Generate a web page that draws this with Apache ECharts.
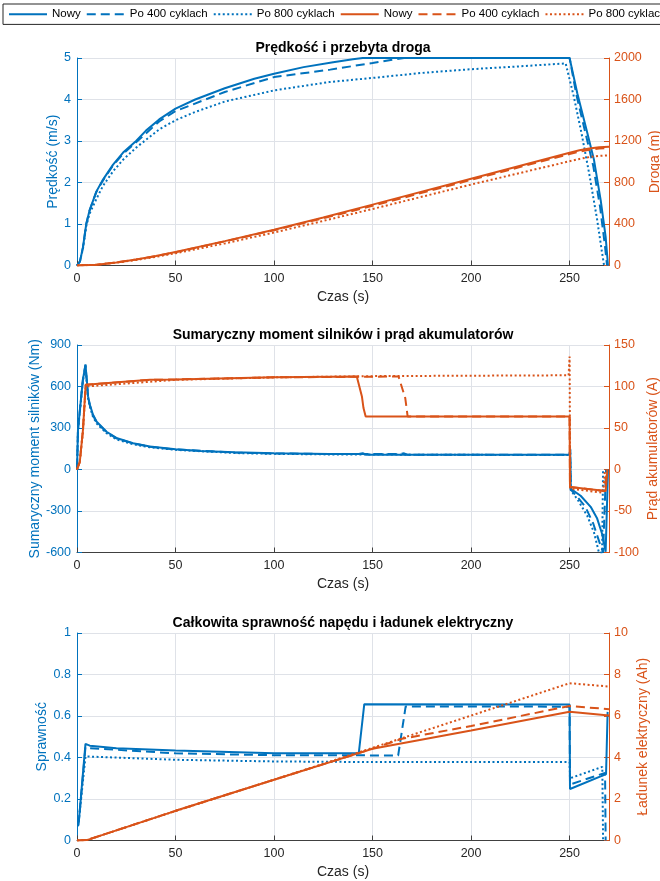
<!DOCTYPE html>
<html>
<head>
<meta charset="utf-8">
<script src="https://cdn.jsdelivr.net/npm/echarts@6/dist/echarts.min.js"></script>
<style>
  html, body { margin: 0; padding: 0; background: #fff; }
  #main { width: 660px; height: 881px; }
</style>
</head>
<body>
<div id="main"></div>
<script>
// --- dane: [czas (s), wartość] ---
// prędkość (m/s)
var speedNew = [[0,0],[1.5,0.1],[3,0.43],[4.7,1.0],[6.4,1.33],[9.8,1.78],[13.2,2.07],[18.3,2.43],[23.4,2.72],[30,3.0],[35,3.25],[41.7,3.52],[50,3.78],[60,4.0],[75,4.27],[90,4.5],[100,4.62],[115,4.78],[130,4.9],[140,4.97],[145,5.0],[250,5.0],[253.9,4.15],[259,3.19],[262.4,2.54],[265.8,1.57],[268.3,0.69],[269.5,0]];
var speed400 = [[0,0],[1.5,0.1],[3,0.43],[4.7,1.0],[6.4,1.33],[9.8,1.77],[13.2,2.05],[18.3,2.41],[23.4,2.69],[30,2.97],[41.7,3.47],[50,3.72],[75,4.18],[100,4.54],[128.5,4.72],[150,4.88],[160,4.96],[166,5.0],[250,5.0],[253.5,4.1],[258.5,3.1],[262,2.4],[265.5,1.4],[268,0.45],[269,0]];
var speed800 = [[0,0],[1.5,0.1],[3,0.4],[4.7,0.95],[6.4,1.25],[9.8,1.6],[13.2,1.92],[18.3,2.27],[23.4,2.55],[30,2.84],[41.7,3.28],[50,3.5],[60,3.7],[75,3.95],[100,4.22],[128,4.42],[150,4.52],[175,4.64],[200,4.73],[225,4.8],[248,4.87],[252,4.1],[256,3.2],[260,2.2],[264,1.1],[266.5,0.3],[267.5,0]];
// droga (m)
var distNew = [[0,0],[10,8],[20,30],[30,58],[40,92],[50,130],[75,235],[100,345],[125,463],[150,587],[200,837],[250,1087],[255,1110],[260,1128],[265,1140],[270,1145]];
var dist400 = [[0,0],[10,8],[20,30],[30,57],[40,90],[50,128],[75,232],[100,340],[125,455],[150,575],[200,825],[250,1075],[255,1097],[260,1115],[265,1127],[270,1132]];
var dist800 = [[0,0],[10,7],[20,27],[30,53],[40,84],[50,118],[75,213],[100,318],[125,430],[150,545],[200,780],[250,1005],[255,1027],[260,1045],[265,1057],[270,1062]];
// sumaryczny moment silników (Nm)
var torqueNew = [[0,0],[0.5,290],[3,650],[4.3,760],[5,640],[5.6,530],[6.5,470],[8,400],[10,345],[15,273],[20,228],[28.5,190],[37,166],[50,147],[62.5,134],[80,124],[100,117],[128,112],[143,112],[145,118],[147,106],[250,106],[250.3,145],[250.6,-140],[255.6,-190],[260.7,-270],[264,-355],[266.6,-470],[268.3,-595],[269,-600],[269.5,0]];
var torque400 = [[0,0],[0.5,290],[3,650],[4.3,755],[5,635],[5.6,525],[6.5,465],[8,395],[10,340],[15,270],[20,225],[28.5,188],[37,164],[50,145],[80,122],[100,116],[128,112],[164,112],[166,117],[168,106],[250,106],[250.3,140],[250.6,-145],[254,-200],[258,-270],[262,-390],[265,-520],[267,-600],[268,-600],[268.5,0]];
var torque800 = [[0,0],[0.5,280],[3,640],[4.3,745],[5,625],[5.6,515],[6.5,455],[8,385],[10,332],[15,262],[20,218],[28.5,182],[37,160],[50,142],[80,119],[100,113],[128,109],[250,104],[250.3,150],[250.6,-150],[254,-216],[259,-336],[262.4,-456],[264.9,-600],[266.5,-600],[267,0]];
// prąd akumulatorów (A)
var currentNew = [[0,0],[1.4,9],[3,47],[4.4,102],[5,103],[37,108],[50,108.5],[100,111],[142,112],[144.6,88],[145.4,74],[146.5,64],[250,64],[250.2,-21],[268.3,-26],[269.2,0]];
var current400 = [[0,0],[1.4,9],[3,47],[4.4,102],[5,103],[37,108],[50,108.5],[100,111],[163.2,112],[166.6,86],[167.8,64],[250,64],[250.2,-21],[268,-26],[268.8,0]];
var current800 = [[0,0],[1.4,9],[3,45],[4.4,100],[5,102],[50,108],[100,111],[150,112.5],[249.5,113.5],[250,136],[250.3,-23],[267,-28],[268,0]];
// całkowita sprawność napędu
var effNew = [[0.5,0.07],[1,0.1],[4.3,0.466],[6.5,0.457],[20,0.445],[50,0.434],[100,0.421],[143,0.42],[145.8,0.657],[250,0.655],[250.2,0.248],[268.5,0.32],[269.3,0.62]];
var eff400 = [[0.5,0.07],[1,0.1],[4.3,0.45],[6.5,0.445],[50,0.42],[100,0.411],[163,0.41],[166.8,0.646],[250,0.645],[250.2,0.27],[268,0.326],[268.3,0]];
var eff800 = [[0.5,0.07],[1,0.1],[4.3,0.405],[50,0.389],[100,0.381],[150,0.378],[250,0.378],[250.2,0.3],[266.6,0.355],[267,0]];
// ładunek elektryczny (Ah)
var chargeNew = [[0,0],[5,0.02],[50,1.43],[100,2.93],[143,4.21],[150,4.42],[200,5.3],[250,6.2],[270,6.02]];
var charge400 = [[0,0],[5,0.02],[50,1.43],[100,2.93],[143,4.21],[165,4.9],[200,5.52],[250,6.48],[270,6.33]];
var charge800 = [[0,0],[5,0.02],[50,1.42],[100,2.93],[143,4.25],[200,6.02],[250,7.58],[270,7.42]];

var names = ['Nowy', 'Po 400 cyklach', 'Po 800 cyklach'];
var titles = ['Prędkość i przebyta droga', 'Sumaryczny moment silników i prąd akumulatorów', 'Całkowita sprawność napędu i ładunek elektryczny'];

var BLUE = '#0072BD', ORANGE = '#D95319', DARK = '#262626';
var FONT = '"Liberation Sans", Arial, Helvetica, sans-serif';
var styles = ['solid', [9, 5], [2, 2.5]];

var myChart = echarts.init(document.getElementById('main'));

var gridTops = [58, 345, 633];
var grids = gridTops.map(function (t) {
  return { left: 77, width: 532, top: t, height: 207.5, outerBoundsMode: 'none', containLabel: false };
});

function xAxis(i) {
  return {
    type: 'value', gridIndex: i, min: 0, max: 270, interval: 50,
    name: 'Czas (s)', nameLocation: 'middle', nameGap: 25, nameMoveOverlap: false,
    nameTextStyle: { color: DARK, fontSize: 14, fontFamily: FONT },
    axisLine: { onZero: false, lineStyle: { color: '#404040', width: 1 } },
    axisTick: { inside: true, length: 5, lineStyle: { color: '#404040' } },
    axisLabel: { color: DARK, fontSize: 12.5, fontFamily: FONT, margin: 7, showMaxLabel: false },
    splitLine: { show: true, lineStyle: { color: '#dfe2e8', width: 1 } }
  };
}

function yAxis(i, side, opts) {
  var col = side === 'left' ? BLUE : ORANGE;
  return {
    type: 'value', gridIndex: i, position: side,
    min: opts.min, max: opts.max, interval: opts.interval,
    name: opts.name, nameLocation: 'middle', nameGap: opts.gap, nameMoveOverlap: false,
    nameTextStyle: { color: col, fontSize: 14, fontFamily: FONT },
    axisLine: { show: true, onZero: false, lineStyle: { color: col, width: 1 } },
    axisTick: { show: true, inside: true, length: 5, lineStyle: { color: col } },
    axisLabel: {
      color: col, fontSize: 12.5, fontFamily: FONT, margin: side === 'left' ? 6 : 5,
      formatter: function (v) { return String(v); }
    },
    splitLine: { show: side === 'left', lineStyle: { color: '#dfe2e8', width: 1 } }
  };
}

var yAxes = [
  yAxis(0, 'left', { min: 0, max: 5, interval: 1, name: 'Prędkość (m/s)', gap: 17 }),
  yAxis(0, 'right', { min: 0, max: 2000, interval: 400, name: 'Droga (m)', gap: 39 }),
  yAxis(1, 'left', { min: -600, max: 900, interval: 300, name: 'Sumaryczny moment silników (Nm)', gap: 35 }),
  yAxis(1, 'right', { min: -100, max: 150, interval: 50, name: 'Prąd akumulatorów (A)', gap: 37 }),
  yAxis(2, 'left', { min: 0, max: 1, interval: 0.2, name: 'Sprawność', gap: 28 }),
  yAxis(2, 'right', { min: 0, max: 10, interval: 2, name: 'Ładunek elektryczny (Ah)', gap: 27 })
];

// niebieskie serie mają nazwy bez spacji, pomarańczowe ze spacją na końcu (osobne wpisy legendy)
var groups = [
  { grid: 0, y: 0, color: BLUE, data: [speedNew, speed400, speed800] },
  { grid: 0, y: 1, color: ORANGE, data: [distNew, dist400, dist800] },
  { grid: 1, y: 2, color: BLUE, data: [torqueNew, torque400, torque800] },
  { grid: 1, y: 3, color: ORANGE, data: [currentNew, current400, current800] },
  { grid: 2, y: 4, color: BLUE, data: [effNew, eff400, eff800] },
  { grid: 2, y: 5, color: ORANGE, data: [chargeNew, charge400, charge800] }
];

var series = [];
groups.forEach(function (g) {
  g.data.forEach(function (d, k) {
    series.push({
      name: names[k] + (g.color === ORANGE ? ' ' : ''),
      type: 'line', xAxisIndex: g.grid, yAxisIndex: g.y,
      data: d, showSymbol: false, symbolSize: 0, color: g.color,
      lineStyle: { color: g.color, width: 2, type: styles[k] }
    });
  });
});

var legendData = names.concat(names.map(function (n) { return n + ' '; }));

var option = {
  animation: false,
  backgroundColor: '#fff',
  title: titles.map(function (t, i) {
    return {
      text: t, left: 343, textAlign: 'center', top: gridTops[i] - 17, padding: 0,
      textStyle: { fontSize: 14, fontWeight: 'bold', color: '#000', fontFamily: FONT }
    };
  }),
  legend: {
    data: legendData, left: 3, top: 4, width: 800, padding: [4, 5],
    itemWidth: 38, itemHeight: 13, itemGap: 5,
    itemStyle: { opacity: 0 },
    borderColor: '#262626', borderWidth: 1,
    textStyle: { fontSize: 11.5, color: '#000', fontFamily: FONT },
    formatter: function (n) { return n.trim(); }
  },
  grid: grids,
  xAxis: [xAxis(0), xAxis(1), xAxis(2)],
  yAxis: yAxes,
  series: series
};

myChart.setOption(option);
</script>
</body>
</html>
